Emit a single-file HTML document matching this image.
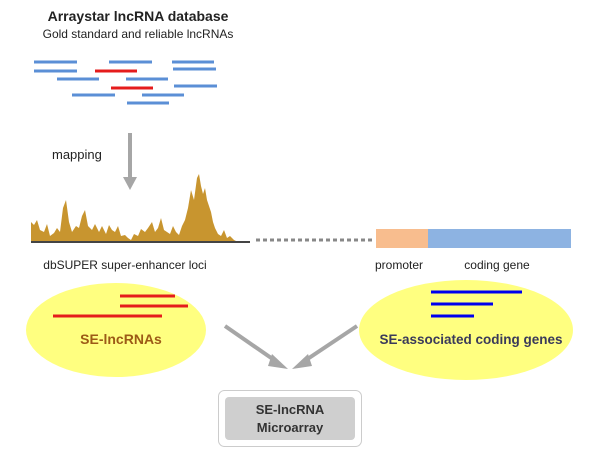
<!DOCTYPE html>
<html><head><style>
body{margin:0;background:#fff;}
svg text{font-family:"Liberation Sans",sans-serif;}
</style></head><body>
<svg width="609" height="460" viewBox="0 0 609 460" xmlns="http://www.w3.org/2000/svg">
<text x="138" y="21" font-size="14" font-weight="bold" text-anchor="middle" fill="#222">Arraystar lncRNA database</text>
<text x="138" y="38" font-size="12" text-anchor="middle" fill="#222">Gold standard and reliable lncRNAs</text>
<g stroke-width="3" stroke="#5b8fd6">
<line x1="34" y1="62" x2="77" y2="62"/><line x1="109" y1="62" x2="152" y2="62"/><line x1="172" y1="62" x2="214" y2="62"/>
<line x1="34" y1="71" x2="77" y2="71"/><line x1="173" y1="69" x2="216" y2="69"/>
<line x1="57" y1="79" x2="99" y2="79"/><line x1="126" y1="79" x2="168" y2="79"/>
<line x1="174" y1="86" x2="217" y2="86"/>
<line x1="72" y1="95" x2="115" y2="95"/><line x1="142" y1="95" x2="184" y2="95"/>
<line x1="127" y1="103" x2="169" y2="103"/>
</g>
<g stroke-width="3" stroke="#e51c1c">
<line x1="95" y1="71" x2="137" y2="71"/><line x1="111" y1="88" x2="153" y2="88"/>
</g>
<text x="52" y="159" font-size="13" fill="#222">mapping</text>
<line x1="130" y1="133" x2="130" y2="178" stroke="#a6a6a6" stroke-width="4"/>
<polygon points="123,177 137,177 130,190" fill="#a6a6a6"/>
<path d="M31,242 L31,222 L34,225 L37,220 L40,230 L44,232 L47,224 L50,236 L54,233 L57,228 L60,232 L63,208 L66,200 L69,222 L72,232 L76,226 L79,228 L82,216 L85,210 L88,226 L92,230 L95,224 L99,232 L102,226 L106,234 L109,225 L112,230 L115,232 L118,226 L121,236 L125,235 L128,238 L131,240 L134,234 L138,236 L141,229 L145,232 L148,228 L152,222 L155,232 L158,228 L161,218 L164,230 L167,232 L170,234 L173,226 L176,232 L179,235 L182,226 L185,220 L188,208 L191,190 L194,200 L197,178 L199,174 L201,186 L203,194 L205,188 L207,200 L209,206 L211,212 L213,222 L215,228 L218,234 L221,236 L224,230 L227,238 L230,236 L234,240 L238,242 Z" fill="#c8952f"/>
<line x1="31" y1="242" x2="250" y2="242" stroke="#444" stroke-width="2"/>
<line x1="256" y1="240" x2="375" y2="240" stroke="#888" stroke-width="3" stroke-dasharray="4,3"/>
<rect x="376" y="229" width="52" height="19" fill="#f8bd8e"/>
<rect x="428" y="229" width="143" height="19" fill="#8db3e2"/>
<text x="125" y="269" font-size="12" text-anchor="middle" fill="#222">dbSUPER super-enhancer loci</text>
<text x="399" y="269" font-size="12" text-anchor="middle" fill="#222">promoter</text>
<text x="497" y="269" font-size="12" text-anchor="middle" fill="#222">coding gene</text>
<ellipse cx="116" cy="330" rx="90" ry="47" fill="#ffff80"/>
<ellipse cx="466" cy="330" rx="107" ry="50" fill="#ffff80"/>
<g stroke="#e51c1c" stroke-width="3">
<line x1="120" y1="296" x2="175" y2="296"/><line x1="120" y1="306" x2="188" y2="306"/><line x1="53" y1="316" x2="162" y2="316"/>
</g>
<g stroke="#0000ee" stroke-width="3">
<line x1="431" y1="292" x2="522" y2="292"/><line x1="431" y1="304" x2="493" y2="304"/><line x1="431" y1="316" x2="474" y2="316"/>
</g>
<text x="121" y="344" font-size="14" font-weight="bold" text-anchor="middle" fill="#9c5a16">SE-lncRNAs</text>
<text x="471" y="344" font-size="13.5" font-weight="bold" text-anchor="middle" fill="#3a3a5a">SE-associated coding genes</text>
<g stroke="#a6a6a6" stroke-width="4">
<line x1="225" y1="326" x2="277" y2="362"/><line x1="357" y1="326" x2="303" y2="362"/>
</g>
<polygon points="272,354 288,369 268,366" fill="#a6a6a6"/>
<polygon points="308,354 292,369 312,366" fill="#a6a6a6"/>
<rect x="218.5" y="390.5" width="143" height="56" rx="6" fill="#fff" stroke="#ccc"/>
<rect x="225" y="397" width="130" height="43" rx="4" fill="#cfcfcf"/>
<text x="290" y="414" font-size="13" font-weight="bold" text-anchor="middle" fill="#333">SE-lncRNA</text>
<text x="290" y="432" font-size="13" font-weight="bold" text-anchor="middle" fill="#333">Microarray</text>
</svg>
</body></html>
